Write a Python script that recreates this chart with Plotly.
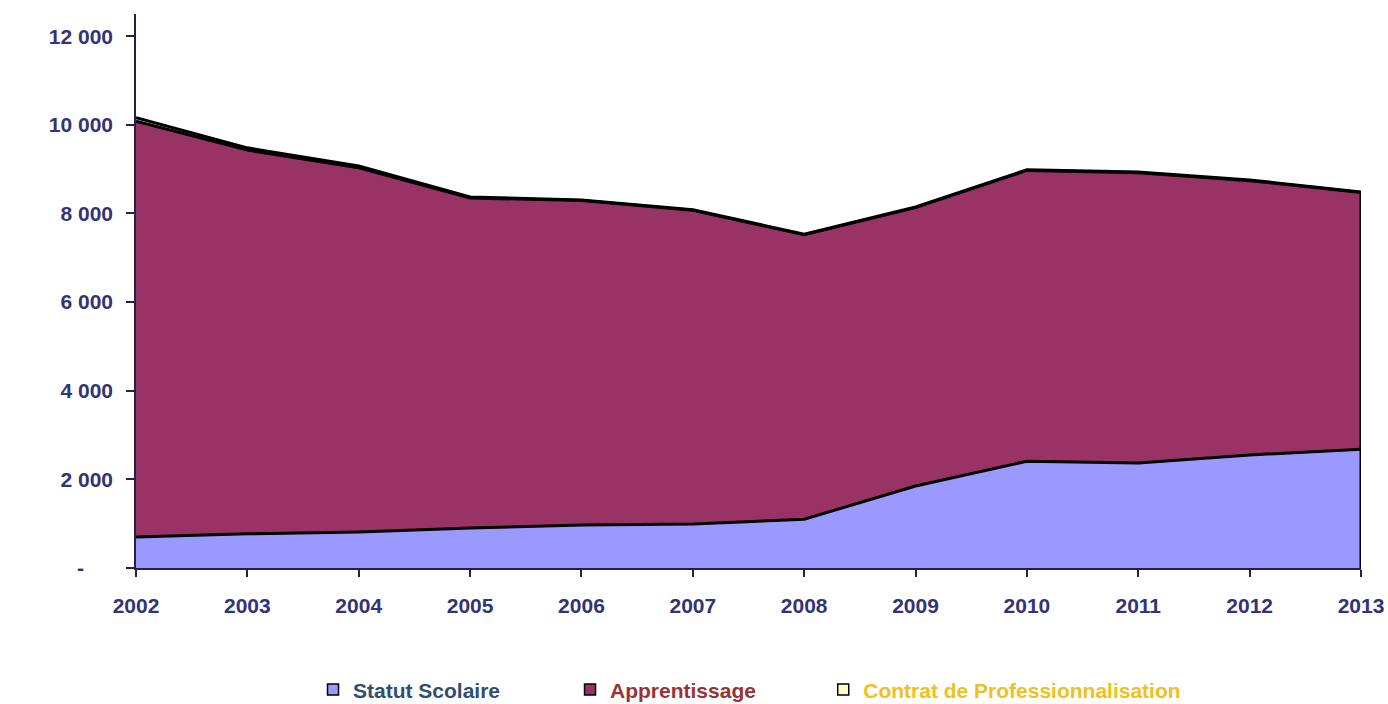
import plotly.graph_objects as go

years = [2002, 2003, 2004, 2005, 2006, 2007, 2008, 2009, 2010, 2011, 2012, 2013]
statut_scolaire = [700, 770, 810, 900, 970, 990, 1100, 1850, 2410, 2370, 2550, 2680]
apprentissage = [9380, 8660, 8220, 7450, 7320, 7080, 6420, 6280, 6560, 6550, 6190, 5790]
contrat_pro = [80, 50, 40, 20, 15, 15, 10, 15, 15, 15, 15, 15]

y_tickvals = [0, 2000, 4000, 6000, 8000, 10000, 12000]
y_ticktext = ["-" + "\u00a0" * 5, "2 000", "4 000", "6 000", "8 000", "10 000", "12 000"]

names = ["Statut Scolaire", "Apprentissage", "Contrat de Professionnalisation"]
fills = ["#9999FF", "#993366", "#FFFFCC"]
text_colors = ["#2F4F6F", "#993333", "#F0C020"]
legend_ids = ["legend", "legend", "legend2"]
series = [statut_scolaire, apprentissage, contrat_pro]

tick_color = "#333377"
font_family = "Liberation Sans, Arial, sans-serif"

fig = go.Figure()
for name, vals, fc in zip(names, series, fills):
    fig.add_trace(go.Scatter(
        x=years, y=vals, stackgroup="one", mode="lines",
        line=dict(color="black", width=3), fillcolor=fc,
        name=name, showlegend=False, hoverinfo="x+y",
    ))

# right-hand edge of the stacked area
total_last = sum(s[-1] for s in series)
fig.add_trace(go.Scatter(
    x=[years[-1], years[-1]], y=[0, total_last], mode="lines",
    line=dict(color="black", width=3), showlegend=False, hoverinfo="skip",
))

# legend entries with small square markers
for name, fc, tc, lg in zip(names, fills, text_colors, legend_ids):
    fig.add_trace(go.Scatter(
        x=[None], y=[None], mode="markers",
        marker=dict(symbol="square", size=11, color=fc, line=dict(color="black", width=1.5)),
        name=f'<span style="color:{tc}">{name}</span>', showlegend=True, legend=lg,
    ))

legend_common = dict(
    orientation="h", traceorder="normal", xanchor="left", y=-0.22, yanchor="middle",
    font=dict(family=font_family, size=21, weight="bold"),
    itemwidth=30, bgcolor="rgba(0,0,0,0)",
)

fig.update_layout(
    width=1388, height=704,
    margin=dict(l=136, r=27, t=14, b=136, autoexpand=False),
    paper_bgcolor="white", plot_bgcolor="white",
    font=dict(family=font_family, size=20, color=tick_color, weight="bold"),
    legend=dict(x=0.1445, entrywidth=212, entrywidthmode="pixels", **legend_common),
    legend2=dict(x=0.561, **legend_common),
    xaxis=dict(
        range=[years[0], years[-1]], tickmode="array", tickvals=years,
        ticktext=[str(y) for y in years], automargin=False,
        showgrid=False, zeroline=False, showline=True, linecolor="#222244", linewidth=2,
        ticks="outside", ticklen=7, tickcolor="#222244", tickwidth=1.5,
        tickfont=dict(family=font_family, size=21, color=tick_color, weight="bold"),
        ticklabelstandoff=11,
    ),
    yaxis=dict(
        range=[0, 12500], tickmode="array", tickvals=y_tickvals, ticktext=y_ticktext,
        automargin=False,
        showgrid=False, zeroline=False, showline=True, linecolor="#222244", linewidth=1.5,
        ticks="outside", ticklen=8, tickcolor="#222244", tickwidth=1.5,
        tickfont=dict(family=font_family, size=21, color=tick_color, weight="bold"),
        ticklabelstandoff=9,
    ),
)

fig.write_html(
    "out.html",
    config={"displayModeBar": False},
    post_script="document.body.style.margin='0';document.body.style.overflow='hidden';",
)
